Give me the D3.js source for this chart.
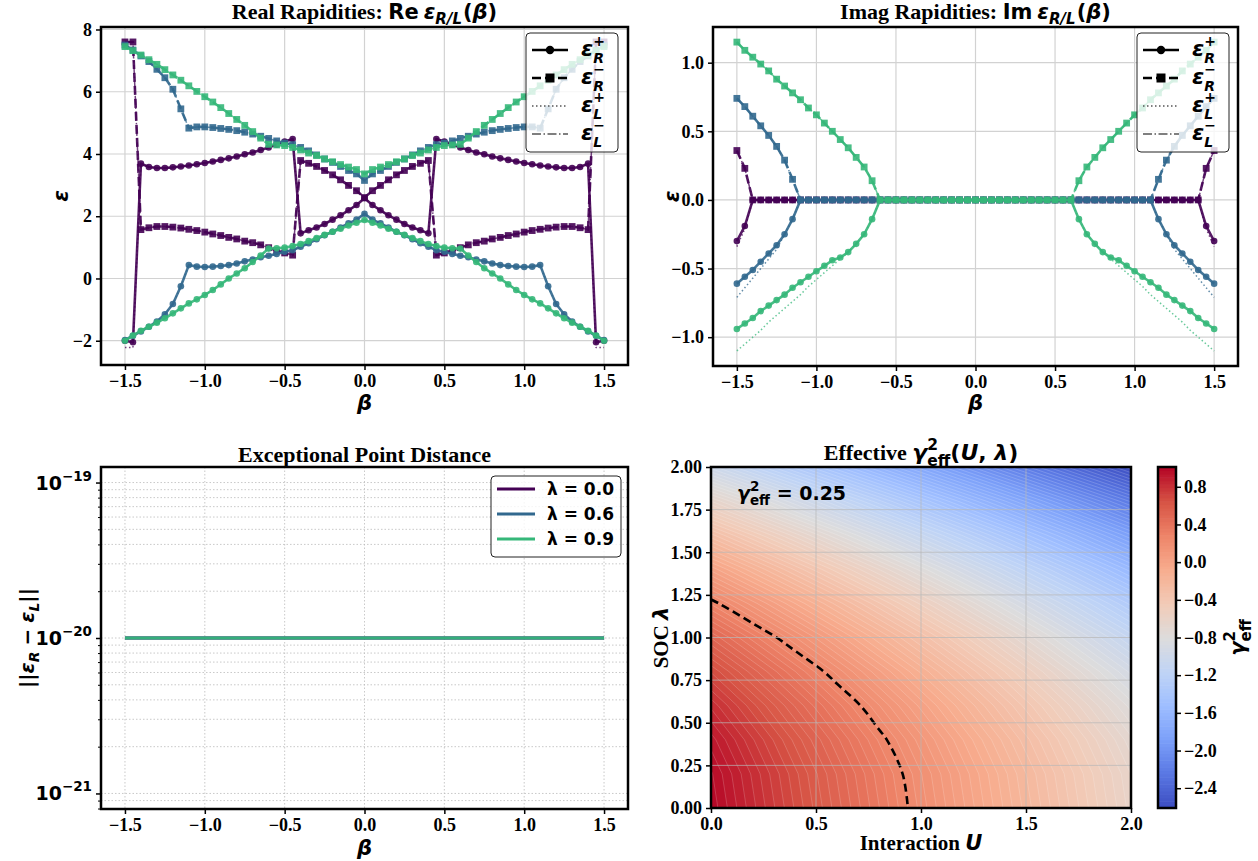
<!DOCTYPE html>
<html>
<head>
<meta charset="utf-8">
<title>Rapidities</title>
<script src="https://cdn.jsdelivr.net/npm/d3@7/dist/d3.min.js"></script>
<style>
  body { margin: 0; background: #fff; }
  svg { display: block; }
  text { white-space: pre; }
</style>
</head>
<body>
<svg id="fig" width="1258" height="861"></svg>
<script>
// ---------------- data ----------------
const lambdas = ['0.0', '0.6', '0.9'];

const beta = [-1.50,-1.45,-1.40,-1.35,-1.30,-1.25,-1.20,-1.15,-1.10,-1.05,
  -1.00,-0.95,-0.90,-0.85,-0.80,-0.75,-0.70,-0.65,-0.60,-0.55,
  -0.50,-0.45,-0.40,-0.35,-0.30,-0.25,-0.20,-0.15,-0.10,-0.05,
  0.00,0.05,0.10,0.15,0.20,0.25,0.30,0.35,0.40,0.45,
  0.50,0.55,0.60,0.65,0.70,0.75,0.80,0.85,0.90,0.95,
  1.00,1.05,1.10,1.15,1.20,1.25,1.30,1.35,1.40,1.45,1.50];

// Re eps, lambda = 0.0
const reRp00 = [-2.00,-2.05,3.69,3.58,3.55,3.55,3.57,3.60,3.63,3.67,
  3.71,3.76,3.81,3.86,3.92,3.99,4.05,4.13,4.21,4.30,
  4.40,4.48,1.45,1.55,1.64,1.75,1.89,2.03,2.19,2.36,
  2.58,2.36,2.19,2.03,1.89,1.75,1.64,1.55,1.45,4.48,
  4.40,4.30,4.21,4.13,4.05,3.99,3.92,3.86,3.81,3.76,
  3.71,3.67,3.63,3.60,3.57,3.55,3.55,3.58,3.69,-2.05,-2.00];
const reRm00 = [7.60,7.60,1.57,1.63,1.67,1.67,1.65,1.62,1.58,1.54,
  1.49,1.43,1.38,1.32,1.27,1.20,1.15,1.08,0.99,0.90,
  0.82,0.75,3.79,3.70,3.60,3.47,3.33,3.17,2.99,2.82,
  2.60,2.82,2.99,3.17,3.33,3.47,3.60,3.70,3.79,0.75,
  0.82,0.90,0.99,1.08,1.15,1.20,1.27,1.32,1.38,1.43,
  1.49,1.54,1.58,1.62,1.65,1.67,1.67,1.63,1.57,7.60,7.60];
const reLp00 = [-2.22,-2.22,3.69,3.58,3.55,3.55,3.57,3.60,3.63,3.67,
  3.71,3.76,3.81,3.86,3.92,3.99,4.05,4.13,4.21,4.30,
  4.40,4.48,1.45,1.55,1.64,1.75,1.89,2.03,2.19,2.36,
  2.58,2.36,2.19,2.03,1.89,1.75,1.64,1.55,1.45,4.48,
  4.40,4.30,4.21,4.13,4.05,3.99,3.92,3.86,3.81,3.76,
  3.71,3.67,3.63,3.60,3.57,3.55,3.55,3.58,3.69,-2.22,-2.22];

// Re eps, lambda = 0.6
const reRp06 = [-1.98,-1.84,-1.70,-1.55,-1.38,-1.15,-0.82,-0.25,0.43,0.38,
  0.37,0.38,0.40,0.43,0.48,0.55,0.61,0.68,0.73,0.79,
  0.86,0.91,1.02,1.13,1.26,1.39,1.50,1.64,1.77,1.89,
  2.08,1.89,1.77,1.64,1.50,1.39,1.26,1.13,1.02,0.91,
  0.86,0.79,0.73,0.68,0.61,0.55,0.48,0.43,0.40,0.38,
  0.37,0.38,0.43,-0.25,-0.82,-1.15,-1.38,-1.55,-1.70,-1.84,-1.98];
const reRm06 = [7.50,7.34,7.15,6.97,6.72,6.45,6.08,5.45,4.83,4.87,
  4.87,4.85,4.82,4.79,4.75,4.70,4.64,4.57,4.50,4.42,
  4.35,4.30,4.21,4.10,3.97,3.84,3.73,3.60,3.47,3.36,
  3.15,3.36,3.47,3.60,3.73,3.84,3.97,4.10,4.21,4.30,
  4.35,4.42,4.50,4.57,4.64,4.70,4.75,4.79,4.82,4.85,
  4.87,4.87,4.83,5.45,6.08,6.45,6.72,6.97,7.15,7.34,7.50];

// Re eps, lambda = 0.9
const reRp09 = [-2.00,-1.83,-1.68,-1.55,-1.42,-1.28,-1.12,-0.96,-0.80,-0.67,
  -0.53,-0.37,-0.19,0.00,0.16,0.33,0.53,0.74,0.96,0.97,
  0.99,1.04,1.11,1.20,1.30,1.40,1.50,1.60,1.70,1.79,
  1.88,1.79,1.70,1.60,1.50,1.40,1.30,1.20,1.11,1.04,
  0.99,0.97,0.96,0.74,0.53,0.33,0.16,0.00,-0.19,-0.37,
  -0.53,-0.67,-0.80,-0.96,-1.12,-1.28,-1.42,-1.55,-1.68,-1.83,-2.00];
const reRm09 = [7.45,7.32,7.18,7.03,6.88,6.71,6.54,6.37,6.19,6.01,
  5.84,5.67,5.49,5.30,5.11,4.92,4.72,4.51,4.31,4.29,
  4.27,4.21,4.13,4.03,3.95,3.84,3.75,3.66,3.58,3.50,
  3.36,3.50,3.58,3.66,3.75,3.84,3.95,4.03,4.13,4.21,
  4.27,4.29,4.31,4.51,4.72,4.92,5.11,5.30,5.49,5.67,
  5.84,6.01,6.19,6.37,6.54,6.71,6.88,7.03,7.18,7.32,7.45];

// Im eps, lambda = 0.0
const imRp00 = [-0.30,-0.19,0,0,0,0,0,0,0,0,
  0,0,0,0,0,0,0,0,0,0,
  0,0,0,0,0,0,0,0,0,0,
  0,0,0,0,0,0,0,0,0,0,
  0,0,0,0,0,0,0,0,0,0,
  0,0,0,0,0,0,0,0,0,-0.19,-0.30];
const imRm00 = [0.36,0.23,0,0,0,0,0,0,0,0,
  0,0,0,0,0,0,0,0,0,0,
  0,0,0,0,0,0,0,0,0,0,
  0,0,0,0,0,0,0,0,0,0,
  0,0,0,0,0,0,0,0,0,0,
  0,0,0,0,0,0,0,0,0,0.23,0.36];
const imLp00 = [-0.34,-0.21,0,0,0,0,0,0,0,0,
  0,0,0,0,0,0,0,0,0,0,
  0,0,0,0,0,0,0,0,0,0,
  0,0,0,0,0,0,0,0,0,0,
  0,0,0,0,0,0,0,0,0,0,
  0,0,0,0,0,0,0,0,0,-0.21,-0.34];

// Im eps, lambda = 0.6
const imRp06 = [-0.61,-0.56,-0.51,-0.45,-0.39,-0.33,-0.25,-0.14,0,0,
  0,0,0,0,0,0,0,0,0,0,
  0,0,0,0,0,0,0,0,0,0,
  0,0,0,0,0,0,0,0,0,0,
  0,0,0,0,0,0,0,0,0,0,
  0,0,0,-0.14,-0.25,-0.33,-0.39,-0.45,-0.51,-0.56,-0.61];
const imRm06 = [0.74,0.68,0.61,0.54,0.47,0.39,0.29,0.15,0,0,
  0,0,0,0,0,0,0,0,0,0,
  0,0,0,0,0,0,0,0,0,0,
  0,0,0,0,0,0,0,0,0,0,
  0,0,0,0,0,0,0,0,0,0,
  0,0,0,0.15,0.29,0.39,0.47,0.54,0.61,0.68,0.74];
const imLp06 = [-0.71,-0.64,-0.57,-0.50,-0.43,-0.36,-0.25,-0.14,0,0,
  0,0,0,0,0,0,0,0,0,0,
  0,0,0,0,0,0,0,0,0,0,
  0,0,0,0,0,0,0,0,0,0,
  0,0,0,0,0,0,0,0,0,0,
  0,0,0,-0.14,-0.25,-0.36,-0.43,-0.50,-0.57,-0.64,-0.71];

// Im eps, lambda = 0.9
const imRp09 = [-0.94,-0.90,-0.86,-0.81,-0.77,-0.73,-0.69,-0.64,-0.60,-0.56,
  -0.52,-0.48,-0.44,-0.42,-0.38,-0.32,-0.25,-0.14,0,0,
  0,0,0,0,0,0,0,0,0,0,
  0,0,0,0,0,0,0,0,0,0,
  0,0,0,-0.14,-0.25,-0.32,-0.38,-0.42,-0.44,-0.48,
  -0.52,-0.56,-0.60,-0.64,-0.69,-0.73,-0.77,-0.81,-0.86,-0.90,-0.94];
const imRm09 = [1.15,1.09,1.04,0.99,0.94,0.88,0.83,0.78,0.73,0.67,
  0.62,0.56,0.50,0.44,0.38,0.31,0.24,0.14,0,0,
  0,0,0,0,0,0,0,0,0,0,
  0,0,0,0,0,0,0,0,0,0,
  0,0,0,0.14,0.24,0.31,0.38,0.44,0.50,0.56,
  0.62,0.67,0.73,0.78,0.83,0.88,0.94,0.99,1.04,1.09,1.15];
const imLp09 = [-1.10,-1.05,-1.00,-0.95,-0.89,-0.84,-0.79,-0.74,-0.69,-0.63,
  -0.58,-0.53,-0.48,-0.43,-0.38,-0.32,-0.25,-0.14,0,0,
  0,0,0,0,0,0,0,0,0,0,
  0,0,0,0,0,0,0,0,0,0,
  0,0,0,-0.14,-0.25,-0.32,-0.38,-0.43,-0.48,-0.53,
  -0.58,-0.63,-0.69,-0.74,-0.79,-0.84,-0.89,-0.95,-1.00,-1.05,-1.10];

// ||eps_R - eps_L|| (same for all three lambdas)
const epDist = [1e-20,1e-20,1e-20,1e-20,1e-20,1e-20,1e-20,1e-20,1e-20,1e-20,
  1e-20,1e-20,1e-20,1e-20,1e-20,1e-20,1e-20,1e-20,1e-20,1e-20,
  1e-20,1e-20,1e-20,1e-20,1e-20,1e-20,1e-20,1e-20,1e-20,1e-20,
  1e-20,1e-20,1e-20,1e-20,1e-20,1e-20,1e-20,1e-20,1e-20,1e-20,
  1e-20,1e-20,1e-20,1e-20,1e-20,1e-20,1e-20,1e-20,1e-20,1e-20,
  1e-20,1e-20,1e-20,1e-20,1e-20,1e-20,1e-20,1e-20,1e-20,1e-20,1e-20];

// gamma_eff^2 on a (lambda rows) x (U columns) grid
const hmU   = [0.0,0.2,0.4,0.6,0.8,1.0,1.2,1.4,1.6,1.8,2.0];
const hmLam = [0.0,0.2,0.4,0.6,0.8,1.0,1.2,1.4,1.6,1.8,2.0];
const hmGrid = [
  [ 1.00, 0.84, 0.68, 0.52, 0.36, 0.20, 0.04,-0.12,-0.28,-0.44,-0.60],
  [ 0.98, 0.82, 0.66, 0.50, 0.34, 0.18, 0.02,-0.14,-0.30,-0.46,-0.62],
  [ 0.92, 0.76, 0.60, 0.44, 0.28, 0.12,-0.04,-0.20,-0.36,-0.52,-0.68],
  [ 0.82, 0.66, 0.50, 0.34, 0.18, 0.02,-0.14,-0.30,-0.46,-0.62,-0.78],
  [ 0.68, 0.52, 0.36, 0.20, 0.04,-0.12,-0.28,-0.44,-0.60,-0.76,-0.92],
  [ 0.50, 0.34, 0.18, 0.02,-0.14,-0.30,-0.46,-0.62,-0.78,-0.94,-1.10],
  [ 0.28, 0.12,-0.04,-0.20,-0.36,-0.52,-0.68,-0.84,-1.00,-1.16,-1.32],
  [ 0.02,-0.14,-0.30,-0.46,-0.62,-0.78,-0.94,-1.10,-1.26,-1.42,-1.58],
  [-0.28,-0.44,-0.60,-0.76,-0.92,-1.08,-1.24,-1.40,-1.56,-1.72,-1.88],
  [-0.62,-0.78,-0.94,-1.10,-1.26,-1.42,-1.58,-1.74,-1.90,-2.06,-2.22],
  [-1.00,-1.16,-1.32,-1.48,-1.64,-1.80,-1.96,-2.12,-2.28,-2.44,-2.60]
];
const gammaLevel = 0.25;
const cbRange = [-2.61, 1.01];

// tick values
const betaTicks = [-1.5,-1.0,-0.5,0.0,0.5,1.0,1.5];
const reTicks = [-2,0,2,4,6,8];
const imTicks = [-1.0,-0.5,0.0,0.5,1.0];
const epTicks = [1e-21,1e-20,1e-19];
const epExp = ['\u221221','\u221220','\u221219'];
const hmTicksU = [0.0,0.5,1.0,1.5,2.0];
const hmTicksLam = [0.00,0.25,0.50,0.75,1.00,1.25,1.50,1.75,2.00];
const cbTicks = [-2.4,-2.0,-1.6,-1.2,-0.8,-0.4,0.0,0.4,0.8];

// ---------------- setup ----------------
const SERIF = "'Liberation Serif','Times New Roman',serif";
const SANS = "'DejaVu Sans','Noto Sans',sans-serif";
const colors = [0, 1/3, 2/3].map(t => d3.interpolateViridis(t));
const coolwarm = d3.piecewise(d3.interpolateRgb, ['#3b4cc0','#5977e3','#7b9ff9','#9ebeff','#c0d4f5',
  '#dddcdc','#f2cbb7','#f7ac8e','#ee8468','#d65244','#b40426']);

const svg = d3.select('#fig');
const defs = svg.append('defs');

const boxRe = {x0: 101, x1: 628, y0: 27, y1: 365};
const boxIm = {x0: 713, x1: 1238, y0: 27, y1: 366};
const boxEP = {x0: 101, x1: 628, y0: 467, y1: 809};
const boxHM = {x0: 711, x1: 1131, y0: 467, y1: 808};
const boxCB = {x0: 1158, x1: 1176, y0: 467, y1: 808};

const xRe = d3.scaleLinear().domain([-1.65, 1.65]).range([boxRe.x0, boxRe.x1]);
const yRe = d3.scaleLinear().domain([-2.78, 8.08]).range([boxRe.y1, boxRe.y0]);
const xIm = d3.scaleLinear().domain([-1.65, 1.65]).range([boxIm.x0, boxIm.x1]);
const yIm = d3.scaleLinear().domain([-1.21, 1.26]).range([boxIm.y1, boxIm.y0]);
const xEP = d3.scaleLinear().domain([-1.65, 1.65]).range([boxEP.x0, boxEP.x1]);
const yEP = d3.scaleLog().domain([Math.pow(10, -21.1), Math.pow(10, -18.9)]).range([boxEP.y1, boxEP.y0]);
const xHM = d3.scaleLinear().domain([0, 2]).range([boxHM.x0, boxHM.x1]);
const yHM = d3.scaleLinear().domain([0, 2]).range([boxHM.y1, boxHM.y0]);
const yCB = d3.scaleLinear().domain(cbRange).range([boxCB.y1, boxCB.y0]);
const cmap = d3.scaleSequential(coolwarm).domain(cbRange);

function clipFor(id, b) {
  defs.append('clipPath').attr('id', id).append('rect')
    .attr('x', b.x0).attr('y', b.y0).attr('width', b.x1 - b.x0).attr('height', b.y1 - b.y0);
  return `url(#${id})`;
}

// text made of pieces (for math-like labels)
function rich(x, y, parts, opt = {}) {
  const g = svg.append('g');
  const inner = g.append('g');
  let cur = 0, lastStart = 0;
  parts.forEach(p => {
    const start = p.stack ? lastStart : cur + (p.pre || 0);
    const t = inner.append('text')
      .attr('x', start).attr('y', p.dy || 0)
      .attr('font-family', p.serif ? SERIF : SANS)
      .attr('font-size', p.size || 20)
      .attr('font-weight', 'bold')
      .attr('font-style', p.it ? 'italic' : 'normal')
      .attr('fill', '#000')
      .text(p.t);
    const w = t.node().getComputedTextLength();
    if (p.stack) cur = Math.max(cur, start + w);
    else { lastStart = start; cur = start + w; }
  });
  const anchor = opt.anchor || 'middle';
  const off = anchor === 'middle' ? -cur / 2 : anchor === 'end' ? -cur : 0;
  inner.attr('transform', `translate(${off},0)`);
  g.attr('transform', `translate(${x},${y})` + (opt.rot ? ` rotate(${opt.rot})` : ''));
  return g;
}

function styleAxis(g, size) {
  g.select('.domain').remove();
  g.selectAll('.tick line').attr('stroke', '#000').attr('stroke-width', 1.5);
  g.selectAll('.tick text').attr('font-family', SERIF).attr('font-weight', 'bold')
    .attr('font-size', size || 18).attr('fill', '#000');
}

function gridLines(b, x, y, xt, yt, style) {
  const g = svg.append('g');
  g.selectAll(null).data(xt).join('line')
    .attr('x1', d => x(d)).attr('x2', d => x(d)).attr('y1', b.y0).attr('y2', b.y1);
  g.selectAll(null).data(yt).join('line')
    .attr('x1', b.x0).attr('x2', b.x1).attr('y1', d => y(d)).attr('y2', d => y(d));
  g.selectAll('line').attr('stroke', style.color).attr('stroke-width', style.width)
    .attr('stroke-dasharray', style.dash || null).attr('opacity', style.opacity || 1);
}

function frame(b) {
  svg.append('rect').attr('x', b.x0).attr('y', b.y0)
    .attr('width', b.x1 - b.x0).attr('height', b.y1 - b.y0)
    .attr('fill', 'none').attr('stroke', '#000').attr('stroke-width', 2.5);
}

function bottomAxis(b, x, ticks, fmt) {
  const g = svg.append('g').attr('transform', `translate(0,${b.y1})`)
    .call(d3.axisBottom(x).tickValues(ticks).tickFormat(fmt).tickSize(5).tickPadding(4));
  styleAxis(g);
}
function leftAxis(b, y, ticks, fmt) {
  const g = svg.append('g').attr('transform', `translate(${b.x0},0)`)
    .call(d3.axisLeft(y).tickValues(ticks).tickFormat(fmt).tickSize(5).tickPadding(4));
  styleAxis(g);
}

const lineStyles = {
  Rp: {lw: 2.6, dash: null, op: 0.9, marker: 'circle'},
  Rm: {lw: 2.6, dash: '9,4', op: 0.9, marker: 'square'},
  Lp: {lw: 1.5, dash: '1.5,2.5', op: 0.75},
  Lm: {lw: 1.5, dash: '9,2.5,1.5,2.5', op: 0.75}
};

function drawCurve(g, x, y, vals, color, kind) {
  const s = lineStyles[kind];
  const pts = beta.map((b, i) => [x(b), y(vals[i])]);
  g.append('path').attr('d', d3.line()(pts)).attr('fill', 'none')
    .attr('stroke', color).attr('stroke-width', s.lw).attr('stroke-linejoin', 'round')
    .attr('stroke-dasharray', s.dash).attr('opacity', s.op);
  if (s.marker === 'circle') {
    g.selectAll(null).data(pts).join('circle')
      .attr('cx', d => d[0]).attr('cy', d => d[1]).attr('r', 3.3)
      .attr('fill', color).attr('opacity', 0.9);
  } else if (s.marker === 'square') {
    g.selectAll(null).data(pts).join('rect')
      .attr('x', d => d[0] - 3.4).attr('y', d => d[1] - 3.4).attr('width', 6.8).attr('height', 6.8)
      .attr('fill', color).attr('opacity', 0.9);
  }
}

const legendItems = [
  {sub: 'R', sup: '+', kind: 'Rp'},
  {sub: 'R', sup: '\u2212', kind: 'Rm'},
  {sub: 'L', sup: '+', kind: 'Lp'},
  {sub: 'L', sup: '\u2212', kind: 'Lm'}
];

function epsLegend(bx, by) {
  svg.append('rect').attr('x', bx).attr('y', by).attr('width', 92).attr('height', 119).attr('rx', 4)
    .attr('fill', '#fff').attr('fill-opacity', 0.8).attr('stroke', '#222').attr('stroke-width', 1);
  legendItems.forEach((it, i) => {
    const cy = by + 17 + i * 28;
    const s = lineStyles[it.kind];
    const col = it.kind[0] === 'R' ? '#000' : '#555';
    svg.append('line').attr('x1', bx + 6).attr('x2', bx + 42).attr('y1', cy).attr('y2', cy)
      .attr('stroke', col).attr('stroke-width', s.lw).attr('stroke-dasharray', s.dash);
    if (s.marker === 'circle') svg.append('circle').attr('cx', bx + 24).attr('cy', cy).attr('r', 4.2).attr('fill', '#000');
    if (s.marker === 'square') svg.append('rect').attr('x', bx + 19.5).attr('y', cy - 4.5).attr('width', 9).attr('height', 9).attr('fill', '#000');
    rich(bx + 55, cy + 6, [
      {t: '\u03b5', it: true, size: 22},
      {t: it.sup, size: 14, dy: -10},
      {t: it.sub, it: true, size: 14, dy: 7, stack: true}
    ], {anchor: 'start'});
  });
}

const f1 = d3.format('.1f'), f0 = d3.format('d'), f2 = d3.format('.2f');

// ---------------- panel 1: real part ----------------
gridLines(boxRe, xRe, yRe, betaTicks, reTicks, {color: '#d2d2d2', width: 1.2});
const reSeries = [
  {Rp: reRp00, Rm: reRm00, Lp: reLp00, Lm: reRm00},
  {Rp: reRp06, Rm: reRm06, Lp: reRp06, Lm: reRm06},
  {Rp: reRp09, Rm: reRm09, Lp: reRp09, Lm: reRm09}
];
const gRe = svg.append('g').attr('clip-path', clipFor('clipRe', boxRe));
reSeries.forEach((s, k) => {
  ['Rp', 'Rm', 'Lp', 'Lm'].forEach(kind => drawCurve(gRe, xRe, yRe, s[kind], colors[k], kind));
});
bottomAxis(boxRe, xRe, betaTicks, f1);
leftAxis(boxRe, yRe, reTicks, f0);
frame(boxRe);
epsLegend(526, 33);
rich((boxRe.x0 + boxRe.x1) / 2, 19, [
  {t: 'Real Rapidities: ', serif: true, size: 22},
  {t: 'Re', size: 21}, {t: '\u03b5', it: true, size: 21, pre: 5},
  {t: 'R/L', it: true, size: 15, dy: 5},
  {t: '(', size: 21, pre: 1}, {t: '\u03b2', it: true, size: 21}, {t: ')', size: 21}
]);
rich((boxRe.x0 + boxRe.x1) / 2, 410, [{t: '\u03b2', it: true, size: 21}]);
rich(68, (boxRe.y0 + boxRe.y1) / 2, [{t: '\u03b5', it: true, size: 21}], {rot: -90});

// ---------------- panel 2: imaginary part ----------------
gridLines(boxIm, xIm, yIm, betaTicks, imTicks, {color: '#d2d2d2', width: 1.2});
const imSeries = [
  {Rp: imRp00, Rm: imRm00, Lp: imLp00, Lm: imRm00},
  {Rp: imRp06, Rm: imRm06, Lp: imLp06, Lm: imRm06},
  {Rp: imRp09, Rm: imRm09, Lp: imLp09, Lm: imRm09}
];
const gIm = svg.append('g').attr('clip-path', clipFor('clipIm', boxIm));
imSeries.forEach((s, k) => {
  ['Rp', 'Rm', 'Lp', 'Lm'].forEach(kind => drawCurve(gIm, xIm, yIm, s[kind], colors[k], kind));
});
bottomAxis(boxIm, xIm, betaTicks, f1);
leftAxis(boxIm, yIm, imTicks, f1);
frame(boxIm);
epsLegend(1137, 33);
rich((boxIm.x0 + boxIm.x1) / 2, 19, [
  {t: 'Imag Rapidities: ', serif: true, size: 22},
  {t: 'Im', size: 21}, {t: '\u03b5', it: true, size: 21, pre: 5},
  {t: 'R/L', it: true, size: 15, dy: 5},
  {t: '(', size: 21, pre: 1}, {t: '\u03b2', it: true, size: 21}, {t: ')', size: 21}
]);
rich((boxIm.x0 + boxIm.x1) / 2, 410, [{t: '\u03b2', it: true, size: 21}]);
rich(679, (boxIm.y0 + boxIm.y1) / 2, [{t: '\u03b5', it: true, size: 21}], {rot: -90});

// ---------------- panel 3: exceptional point distance ----------------
const epMinor = yEP.ticks().filter(v => !epTicks.some(t => Math.abs(t - v) / t < 1e-6));
gridLines(boxEP, xEP, yEP, betaTicks, yEP.ticks(), {color: '#bdbdbd', width: 1, dash: '1.5,2', opacity: 0.8});
const gEP = svg.append('g').attr('clip-path', clipFor('clipEP', boxEP));
lambdas.forEach((lam, k) => {
  gEP.append('path').attr('d', d3.line().x((d, i) => xEP(beta[i])).y(d => yEP(d))(epDist))
    .attr('fill', 'none').attr('stroke', colors[k]).attr('stroke-width', 3.2).attr('opacity', 0.9);
});
bottomAxis(boxEP, xEP, betaTicks, f1);
leftAxis(boxEP, yEP, epTicks, () => '');
const gMinor = svg.append('g').attr('transform', `translate(${boxEP.x0},0)`)
  .call(d3.axisLeft(yEP).tickValues(epMinor).tickFormat(() => '').tickSize(3));
styleAxis(gMinor);
gMinor.selectAll('.tick line').attr('stroke-width', 1);
epTicks.forEach((v, i) => {
  rich(boxEP.x0 - 9, yEP(v) + 7, [{t: '10', size: 19}, {t: epExp[i], size: 13.5, dy: -9}], {anchor: 'end'});
});
frame(boxEP);
svg.append('rect').attr('x', 491).attr('y', 476).attr('width', 130).attr('height', 81).attr('rx', 4)
  .attr('fill', '#fff').attr('fill-opacity', 0.8).attr('stroke', '#222').attr('stroke-width', 1);
lambdas.forEach((lam, k) => {
  const cy = 489 + k * 25;
  svg.append('line').attr('x1', 497).attr('x2', 535).attr('y1', cy).attr('y2', cy)
    .attr('stroke', colors[k]).attr('stroke-width', 3.2);
  rich(547, cy + 6, [{t: '\u03bb = ' + lam, size: 17}], {anchor: 'start'});
});
rich((boxEP.x0 + boxEP.x1) / 2, 462, [{t: 'Exceptional Point Distance', serif: true, size: 22}]);
rich((boxEP.x0 + boxEP.x1) / 2, 855, [{t: '\u03b2', it: true, size: 21}]);
rich(34, (boxEP.y0 + boxEP.y1) / 2, [
  {t: '||', size: 20}, {t: '\u03b5', it: true, size: 20},
  {t: 'R', it: true, size: 14, dy: 5},
  {t: '\u2212', size: 20, pre: 6},
  {t: '\u03b5', it: true, size: 20, pre: 6}, {t: 'L', it: true, size: 14, dy: 5},
  {t: '||', size: 20}
], {rot: -90});

// ---------------- panel 4: gamma_eff^2 heat map ----------------
const nU = hmU.length, nL = hmLam.length;
const flat = hmGrid.flat();
const step = hmU[1] - hmU[0];
const nLev = 100;
const levels = d3.range(nLev + 1).map(k => cbRange[0] + k * (cbRange[1] - cbRange[0]) / nLev);
const dLev = levels[1] - levels[0];
const gx = px => xHM(hmU[0] + (px - 0.5) * step);
const gy = py => yHM(hmLam[0] + (py - 0.5) * step);
const proj = d3.geoTransform({
  point: function(px, py) { this.stream.point(gx(px), gy(py)); }
});
const gpath = d3.geoPath(proj);
const gHM = svg.append('g').attr('clip-path', clipFor('clipHM', boxHM));
const bands = d3.contours().size([nU, nL]).thresholds(levels)(flat);
gHM.selectAll(null).data(bands).join('path')
  .attr('d', gpath)
  .attr('fill', d => cmap(d.value + dLev / 2))
  .attr('stroke', 'rgba(255,255,255,0.3)').attr('stroke-width', 0.6);

// dashed iso-line: the inner part of the contour ring, drawn smoothly
const iso = d3.contours().size([nU, nL]).thresholds([gammaLevel])(flat)[0];
const inside = p => p[0] > 0 && p[0] < nU && p[1] > 0 && p[1] < nL;
iso.coordinates.forEach(poly => {
  const ring = poly[0].slice(0, -1);
  const s0 = ring.findIndex(p => !inside(p));
  const rot = s0 < 0 ? ring : ring.slice(s0).concat(ring.slice(0, s0));
  const run = rot.filter(inside).map(p => [gx(p[0]), gy(p[1])]);
  gHM.append('path').attr('d', d3.line().curve(d3.curveCatmullRom)(run)).attr('fill', 'none')
    .attr('stroke', '#000').attr('stroke-width', 2.6).attr('stroke-dasharray', '8,4.5');
});
gridLines(boxHM, xHM, yHM, hmTicksU, hmTicksLam, {color: '#b8b8b8', width: 1, opacity: 0.7});
bottomAxis(boxHM, xHM, hmTicksU, f1);
leftAxis(boxHM, yHM, hmTicksLam, f2);
frame(boxHM);
rich(737, 500, [
  {t: '\u03b3', it: true, size: 19},
  {t: '2', size: 13.5, dy: -9},
  {t: 'eff', size: 13.5, dy: 5, stack: true},
  {t: ' = 0.25', size: 19}
], {anchor: 'start'});
rich((boxHM.x0 + boxHM.x1) / 2, 460, [
  {t: 'Effective ', serif: true, size: 22},
  {t: '\u03b3', it: true, size: 22},
  {t: '2', size: 15.5, dy: -10},
  {t: 'eff', size: 15.5, dy: 6, stack: true},
  {t: '(', size: 22}, {t: 'U', it: true, size: 22}, {t: ', ', size: 22},
  {t: '\u03bb', it: true, size: 22}, {t: ')', size: 22}
]);
rich((boxHM.x0 + boxHM.x1) / 2, 850, [
  {t: 'Interaction ', serif: true, size: 21}, {t: 'U', it: true, size: 21}
]);
rich(668, (boxHM.y0 + boxHM.y1) / 2, [
  {t: 'SOC ', serif: true, size: 21}, {t: '\u03bb', it: true, size: 21}
], {rot: -90});

// colorbar
svg.append('g').selectAll(null).data(levels.slice(0, nLev)).join('rect')
  .attr('x', boxCB.x0).attr('width', boxCB.x1 - boxCB.x0)
  .attr('y', d => yCB(d + dLev)).attr('height', d => yCB(d) - yCB(d + dLev) + 0.6)
  .attr('fill', d => cmap(d + dLev / 2));
const gCB = svg.append('g').attr('transform', `translate(${boxCB.x1},0)`)
  .call(d3.axisRight(yCB).tickValues(cbTicks).tickFormat(f1).tickSize(5).tickPadding(3));
styleAxis(gCB);
frame(boxCB);
rich(1245, (boxCB.y0 + boxCB.y1) / 2, [
  {t: '\u03b3', it: true, size: 21},
  {t: '2', size: 15, dy: -10},
  {t: 'eff', size: 15, dy: 6, stack: true}
], {rot: -90});
</script>
</body>
</html>
